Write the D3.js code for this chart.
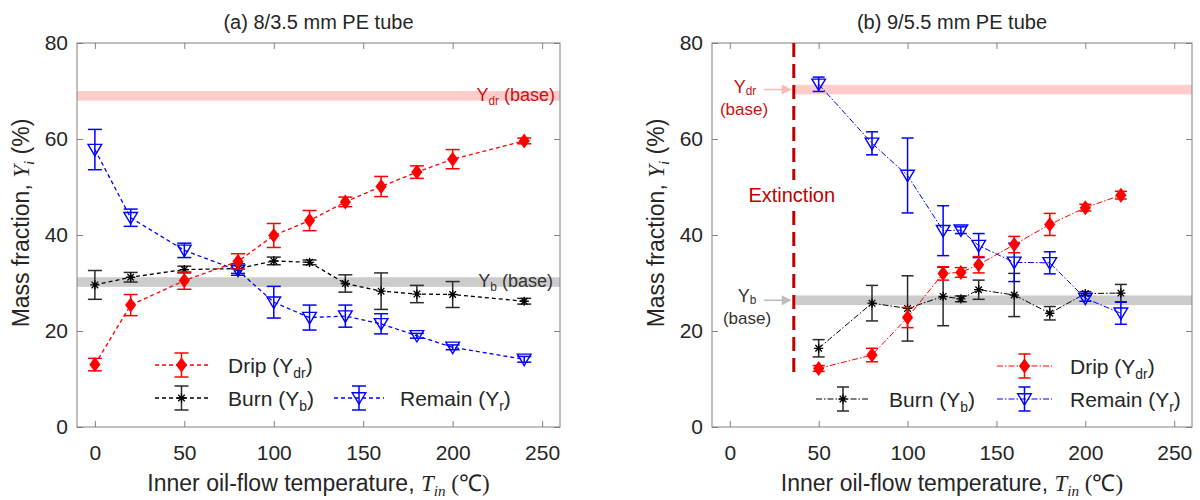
<!DOCTYPE html>
<html>
<head>
<meta charset="utf-8">
<script src="https://cdn.jsdelivr.net/npm/d3@7"></script>
<style>
  body { margin: 0; background: #fff; }
  svg text { font-family: "Liberation Sans", Arial, sans-serif; }
</style>
</head>
<body>
<svg id="chart" width="1200" height="500"></svg>
<script>
// ---------- data ----------
// (a) 8/3.5 mm PE tube
const tempA      = [0, 20, 50, 80, 100, 120, 140, 160, 180, 200, 240];
const dripA      = [13.0, 25.4, 30.5, 34.5, 39.9, 43.0, 46.9, 50.1, 53.1, 55.8, 59.6];
const dripErrA   = [1.3, 2.2, 1.8, 1.6, 2.5, 2.1, 1.0, 2.1, 1.3, 2.0, 0.6];
const burnA      = [29.6, 31.2, 32.8, 33.0, 34.6, 34.3, 29.9, 28.3, 27.7, 27.6, 26.2];
const burnErrA   = [3.0, 1.0, 0.7, 1.0, 0.8, 0.5, 1.8, 3.8, 1.8, 2.7, 0.6];
const remainA    = [57.8, 43.6, 36.8, 32.6, 26.0, 22.8, 23.1, 21.5, 19.0, 16.6, 14.1];
const remainErrA = [4.2, 1.8, 1.5, 1.0, 3.3, 2.6, 2.3, 2.1, 0.5, 0.5, 0.6];
const baseDripA  = 69.0;
const baseBurnA  = 30.2;

// (b) 9/5.5 mm PE tube
const tempB      = [50, 80, 100, 120, 130, 140, 160, 180, 200, 220];
const dripB      = [12.2, 15.0, 22.8, 32.0, 32.2, 33.8, 38.0, 42.2, 45.7, 48.3];
const dripErrB   = [0.6, 1.4, 2.1, 1.4, 1.0, 1.7, 1.7, 2.3, 0.7, 0.8];
const burnB      = [16.4, 25.8, 24.7, 27.2, 26.7, 28.6, 27.5, 23.7, 27.8, 27.9];
const burnErrB   = [1.8, 3.7, 6.8, 6.1, 0.6, 2.0, 4.5, 1.4, 0.4, 1.8];
const remainB    = [71.4, 59.1, 52.4, 40.9, 41.0, 37.8, 34.3, 34.2, 26.8, 23.7];
const remainErrB = [1.5, 2.4, 7.8, 5.2, 0.7, 2.5, 4.0, 2.3, 0.6, 2.3];
const baseDripB  = 70.3;
const baseBurnB  = 26.4;
const extinctionB = 36;

// axes
const xTicks = [0, 50, 100, 150, 200, 250];
const yTicks = [0, 20, 40, 60, 80];
const xDomain = [-10, 260];
const yDomain = [0, 80];

// ---------- styling ----------
const RED = "#ff0000", BLACK = "#000000", BLUE = "#0000ff";
const TEXT = "#262626", FRAME = "#808080";
const SANS = '"Liberation Sans", Arial, sans-serif';
const SERIF = '"Liberation Serif", "Times New Roman", serif';

const svg = d3.select("#chart");

// rich text: parts = [{t, sub, italic, serif}]
function richText(g, parts, size, subShift = 0.22) {
  const txt = g.append("text").attr("font-size", size);
  let shifted = false;
  parts.forEach(p => {
    const ts = txt.append("tspan").text(p.t);
    if (p.serif) ts.attr("font-family", SERIF);
    if (p.italic) ts.attr("font-style", "italic");
    if (p.sub) {
      ts.attr("font-size", size * 0.66).attr("dy", shifted ? 0 : size * subShift);
      shifted = true;
    } else if (shifted) {
      ts.attr("dy", -size * subShift);
      shifted = false;
    }
  });
  return txt;
}

const diamondPath = "M0,-7.5L5.6,0L0,7.5L-5.6,0Z";
const triPath = "M-6.8,-5.2L6.8,-5.2L0,6.2Z";
const starPath = "M-4.6,0L4.6,0M0,-4.6L0,4.6M-3.3,-3.3L3.3,3.3M-3.3,3.3L3.3,-3.3";

function drawMarker(g, kind, color) {
  if (kind === "diamond") {
    g.append("path").attr("d", diamondPath).attr("fill", color);
  } else if (kind === "tri") {
    g.append("path").attr("d", triPath).attr("fill", "none")
      .attr("stroke", color).attr("stroke-width", 1.4);
  } else {
    g.append("path").attr("d", starPath).attr("fill", "none")
      .attr("stroke", color).attr("stroke-width", 1.3);
  }
}

function drawPanel(cfg) {
  const x = d3.scaleLinear().domain(xDomain).range([cfg.left, cfg.right]);
  const y = d3.scaleLinear().domain(yDomain).range([cfg.bottom, cfg.top]);
  const g = svg.append("g");

  // baseline bands
  const bandH = Math.abs(y(0) - y(2));
  const bandX0 = cfg.bandStart != null ? x(cfg.bandStart) : cfg.left;
  g.append("rect").attr("x", bandX0).attr("width", cfg.right - bandX0)
    .attr("y", y(cfg.baseDrip) - bandH / 2).attr("height", bandH).attr("fill", "#ffcccc");
  g.append("rect").attr("x", bandX0).attr("width", cfg.right - bandX0)
    .attr("y", y(cfg.baseBurn) - bandH / 2).attr("height", bandH).attr("fill", "#cccccc");

  // ticks (inside, on all four sides)
  const tick = 6;
  const ax = g.append("g");
  ax.append("g").attr("transform", `translate(0,${cfg.bottom})`)
    .call(d3.axisBottom(x).tickValues(xTicks).tickSize(-tick).tickPadding(18));
  ax.append("g").attr("transform", `translate(0,${cfg.top})`)
    .call(d3.axisTop(x).tickValues(xTicks).tickSize(-tick).tickFormat(""));
  ax.append("g").attr("transform", `translate(${cfg.left},0)`)
    .call(d3.axisLeft(y).tickValues(yTicks).tickSize(-tick).tickPadding(9));
  ax.append("g").attr("transform", `translate(${cfg.right},0)`)
    .call(d3.axisRight(y).tickValues(yTicks).tickSize(-tick).tickFormat(""));
  ax.selectAll(".domain").remove();
  ax.selectAll(".tick line").attr("stroke", FRAME);
  ax.selectAll(".tick text").attr("fill", TEXT).attr("font-family", SANS).attr("font-size", 21);

  // frame
  g.append("rect").attr("x", cfg.left).attr("y", cfg.top)
    .attr("width", cfg.right - cfg.left).attr("height", cfg.bottom - cfg.top)
    .attr("fill", "none").attr("stroke", FRAME).attr("stroke-width", 1);

  // extras drawn under the series
  if (cfg.extras) cfg.extras(g, x, y);

  // series
  cfg.series.forEach(s => {
    const pts = s.t.map((t, i) => ({ t, v: s.v[i], e: s.e[i] }));
    const line = d3.line().x(d => x(d.t)).y(d => y(d.v));
    g.append("path").datum(pts).attr("d", line)
      .attr("fill", "none").attr("stroke", s.color)
      .attr("stroke-width", cfg.lineWidth).attr("stroke-dasharray", cfg.dash);
    const eb = g.append("g").attr("stroke", s.ebColor).attr("stroke-width", 1.5).attr("fill", "none");
    pts.forEach(d => {
      const cx = x(d.t), y1 = y(d.v + d.e), y2 = y(d.v - d.e);
      eb.append("line").attr("x1", cx).attr("x2", cx).attr("y1", y1).attr("y2", y2);
      eb.append("line").attr("x1", cx - cfg.cap).attr("x2", cx + cfg.cap).attr("y1", y1).attr("y2", y1);
      eb.append("line").attr("x1", cx - cfg.cap).attr("x2", cx + cfg.cap).attr("y1", y2).attr("y2", y2);
    });
    pts.forEach(d => {
      const mg = g.append("g").attr("transform", `translate(${x(d.t)},${y(d.v)})`);
      drawMarker(mg, s.marker, s.color);
    });
  });

  // legend
  cfg.legend.forEach(L => {
    const s = cfg.series[L.idx];
    const lg = g.append("g");
    lg.append("line").attr("x1", L.x0).attr("x2", L.x1).attr("y1", L.y).attr("y2", L.y)
      .attr("stroke", s.color).attr("stroke-width", cfg.lineWidth).attr("stroke-dasharray", cfg.dash);
    const mx = (L.x0 + L.x1) / 2;
    const eb = lg.append("g").attr("stroke", s.ebColor).attr("stroke-width", 1.5);
    eb.append("line").attr("x1", mx).attr("x2", mx).attr("y1", L.y - 12).attr("y2", L.y + 12);
    eb.append("line").attr("x1", mx - cfg.cap).attr("x2", mx + cfg.cap).attr("y1", L.y - 12).attr("y2", L.y - 12);
    eb.append("line").attr("x1", mx - cfg.cap).attr("x2", mx + cfg.cap).attr("y1", L.y + 12).attr("y2", L.y + 12);
    drawMarker(lg.append("g").attr("transform", `translate(${mx},${L.y})`), s.marker, s.color);
    richText(lg, L.label, 21).attr("x", L.tx).attr("y", L.y + 8).attr("fill", TEXT);
  });

  // title
  g.append("text").attr("x", (cfg.left + cfg.right) / 2).attr("y", 29)
    .attr("text-anchor", "middle").attr("font-size", 20).attr("fill", TEXT).text(cfg.title);

  // axis labels
  richText(g, [
    { t: "Inner oil-flow temperature, " },
    { t: "T", serif: true, italic: true },
    { t: "in", serif: true, italic: true, sub: true },
    { t: " (℃)", serif: true }
  ], 23).attr("x", (cfg.left + cfg.right) / 2).attr("y", 491)
    .attr("text-anchor", "middle").attr("fill", TEXT);

  const yl = g.append("g").attr("transform", `translate(${cfg.left - 48},223) rotate(-90)`);
  richText(yl, [
    { t: "Mass fraction, " },
    { t: "Y", serif: true, italic: true },
    { t: "i", serif: true, italic: true, sub: true },
    { t: " (%)" }
  ], 23).attr("x", 0).attr("y", 0).attr("text-anchor", "middle").attr("fill", TEXT);

  return { x, y, g };
}

const lbl = (main, sub) => [{ t: main + " (Y" }, { t: sub, sub: true }, { t: ")" }];

// ---------- panel (a) ----------
drawPanel({
  left: 77, right: 560, top: 43, bottom: 427,
  title: "(a) 8/3.5 mm PE tube",
  baseDrip: baseDripA, baseBurn: baseBurnA,
  lineWidth: 1.3, dash: "4,3", cap: 7,
  series: [
    { t: tempA, v: burnA, e: burnErrA, color: BLACK, ebColor: "#2a2a2a", marker: "star" },
    { t: tempA, v: remainA, e: remainErrA, color: BLUE, ebColor: BLUE, marker: "tri" },
    { t: tempA, v: dripA, e: dripErrA, color: RED, ebColor: RED, marker: "diamond" }
  ],
  legend: [
    { idx: 2, x0: 155, x1: 208, y: 365, tx: 228, label: lbl("Drip", "dr") },
    { idx: 0, x0: 155, x1: 208, y: 398, tx: 228, label: lbl("Burn", "b") },
    { idx: 1, x0: 334, x1: 384, y: 398, tx: 400, label: lbl("Remain", "r") }
  ],
  extras: (g, x, y) => {
    richText(g, [{ t: "Y" }, { t: "dr", sub: true }, { t: " (base)" }], 18)
      .attr("x", 555).attr("y", y(baseDripA) + 5).attr("text-anchor", "end").attr("fill", "#cc1111");
    richText(g, [{ t: "Y" }, { t: "b", sub: true }, { t: " (base)" }], 18)
      .attr("x", 553).attr("y", y(baseBurnA) + 5).attr("text-anchor", "end").attr("fill", "#333");
  }
});

// ---------- panel (b) ----------
drawPanel({
  left: 712, right: 1192, top: 43, bottom: 427,
  title: "(b) 9/5.5 mm PE tube",
  baseDrip: baseDripB, baseBurn: baseBurnB, bandStart: extinctionB,
  lineWidth: 1, dash: "6,2,1.5,2", cap: 6,
  series: [
    { t: tempB, v: burnB, e: burnErrB, color: BLACK, ebColor: "#2a2a2a", marker: "star" },
    { t: tempB, v: remainB, e: remainErrB, color: BLUE, ebColor: BLUE, marker: "tri" },
    { t: tempB, v: dripB, e: dripErrB, color: RED, ebColor: RED, marker: "diamond" }
  ],
  legend: [
    { idx: 2, x0: 997, x1: 1052, y: 366, tx: 1070, label: lbl("Drip", "dr") },
    { idx: 0, x0: 816, x1: 870, y: 399, tx: 889, label: lbl("Burn", "b") },
    { idx: 1, x0: 997, x1: 1052, y: 399, tx: 1070, label: lbl("Remain", "r") }
  ],
  extras: (g, x, y) => {
    const xe = x(extinctionB);
    // extinction boundary
    g.append("line").attr("x1", xe).attr("x2", xe).attr("y1", y(80)).attr("y2", 379)
      .attr("stroke", "#c00000").attr("stroke-width", 3).attr("stroke-dasharray", "14,7");
    g.append("rect").attr("x", xe - 6).attr("width", 12).attr("y", 180).attr("height", 31).attr("fill", "#fff");
    g.append("text").attr("x", xe - 2).attr("y", 202).attr("text-anchor", "middle")
      .attr("font-size", 20).attr("fill", "#c00000").text("Extinction");

    // base-value callouts with arrows
    const arrow = (yy, color) => {
      g.append("line").attr("x1", 764).attr("x2", xe - 10).attr("y1", yy).attr("y2", yy)
        .attr("stroke", color).attr("stroke-width", 1.6);
      g.append("path").attr("d", `M${xe - 2},${yy}L${xe - 12},${yy - 5}L${xe - 12},${yy + 5}Z`).attr("fill", color);
    };
    const yd = y(baseDripB), yb = y(baseBurnB);
    arrow(yd, "#ffb8b8");
    arrow(yb, "#bdbdbd");
    richText(g, [{ t: "Y" }, { t: "dr", sub: true }], 18, 0.12)
      .attr("x", 745).attr("y", yd + 3).attr("text-anchor", "middle").attr("fill", "#cc1111");
    g.append("text").attr("x", 744).attr("y", yd + 25).attr("text-anchor", "middle")
      .attr("font-size", 17).attr("fill", "#cc1111").text("(base)");
    richText(g, [{ t: "Y" }, { t: "b", sub: true }], 18, 0.12)
      .attr("x", 747).attr("y", yb + 2).attr("text-anchor", "middle").attr("fill", "#333");
    g.append("text").attr("x", 747).attr("y", yb + 24).attr("text-anchor", "middle")
      .attr("font-size", 17).attr("fill", "#333").text("(base)");
  }
});
</script>
</body>
</html>
